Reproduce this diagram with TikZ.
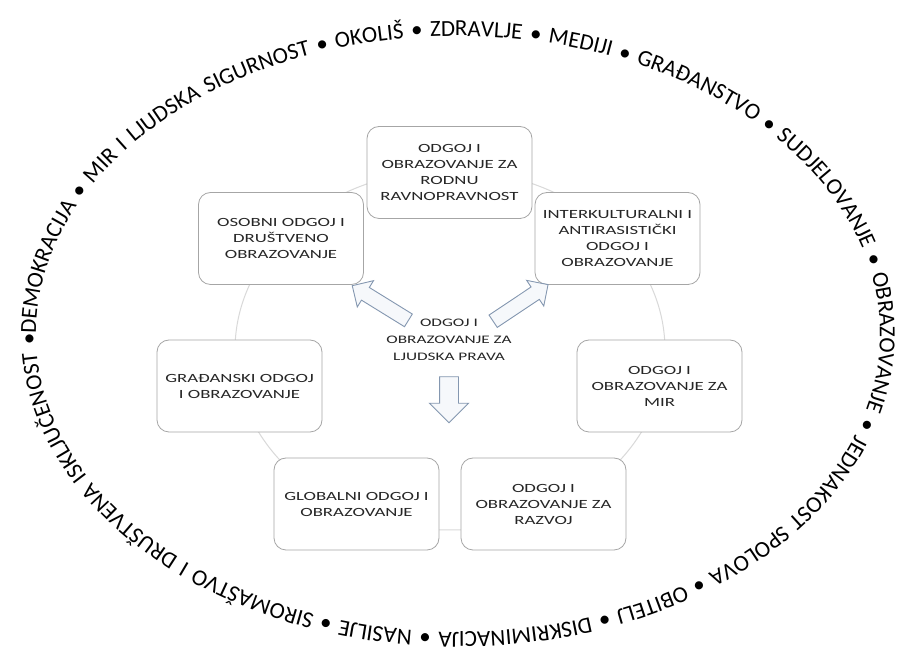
\documentclass[tikz,border=0pt]{standalone}
\usepackage{fontspec}
\setmainfont{Carlito}
\newfontfamily\boxfont[FakeStretch=1.5]{Carlito}
\usetikzlibrary{decorations.text,shapes.arrows}
\definecolor{ringgray}{HTML}{D9D9D9}
\definecolor{boxline}{HTML}{A6A6A6}
\definecolor{arrline}{HTML}{8497B0}
\definecolor{arrfill}{HTML}{F6F8FB}
\tikzset{
  topic/.style={draw=boxline, line width=0.8pt, fill=white, rounded corners=12pt,
    minimum width=165pt, minimum height=92pt, align=center,
    font=\boxfont\fontsize{12.5}{16}\selectfont, text=black!85, inner sep=2pt},
  hollow/.style={single arrow, draw=arrline, fill=arrfill, line width=0.9pt,
    inner xsep=0pt, inner ysep=7pt, single arrow head extend=8pt},
  centretext/.style={align=center, font=\boxfont\fontsize{11.5}{17}\selectfont, text=black!85}
}
\begin{document}
\begin{tikzpicture}[x=1pt,y=1pt]
\useasboundingbox (0,0) rectangle (914,672);
\fill[white] (0,0) rectangle (914,672);
% outer ring of words
\path[decorate, decoration={text along path,
  text={|\fontsize{23}{23}\selectfont|DEMOKRACIJA • MIR I LJUDSKA SIGURNOST • OKOLIŠ • ZDRAVLJE • MEDIJI • GRAĐANSTVO • SUDJELOVANJE • OBRAZOVANJE • JEDNAKOST SPOLOVA • OBITELJ • DISKRIMINACIJA • NASILJE • SIROMAŠTVO I DRUŠTVENA ISKLJUČENOST •},
  text align={fit to path stretching spaces}}]
  (36,338) arc[start angle=180, end angle=-180, x radius=422, y radius=298];
% cycle ring
\draw[ringgray, line width=1pt] (450,322) ellipse[x radius=215, y radius=180];
% boxes
\node[topic] (rod) at (449.5,499.5) {ODGOJ I\\OBRAZOVANJE ZA\\RODNU\\RAVNOPRAVNOST};
\node[topic] (oso) at (281,433.5) {OSOBNI ODGOJ I\\DRUŠTVENO\\OBRAZOVANJE};
\node[topic] (int) at (617.5,433.5) {INTERKULTURALNI I\\ANTIRASISTIČKI\\ODGOJ I\\OBRAZOVANJE};
\node[topic] (gra) at (239.5,286) {GRAĐANSKI ODGOJ\\I OBRAZOVANJE};
\node[topic] (mir) at (659.5,286) {ODGOJ I\\OBRAZOVANJE ZA\\MIR};
\node[topic] (glo) at (356.5,168) {GLOBALNI ODGOJ I\\OBRAZOVANJE};
\node[topic] (raz) at (543.5,168) {ODGOJ I\\OBRAZOVANJE ZA\\RAZVOJ};
% centre
\node[centretext] (ljp) at (449,332) {ODGOJ I\\OBRAZOVANJE ZA\\LJUDSKA PRAVA};
\node[hollow, minimum height=66pt, rotate=148.3] (a1) at (383.5,367) {};
\node[hollow, minimum height=66pt, rotate=33.7] (a2) at (517.5,367) {};
\node[hollow, minimum height=46pt, rotate=-90, inner ysep=9pt, single arrow head extend=10pt] (a3) at (449,277) {};
\end{tikzpicture}
\end{document}
